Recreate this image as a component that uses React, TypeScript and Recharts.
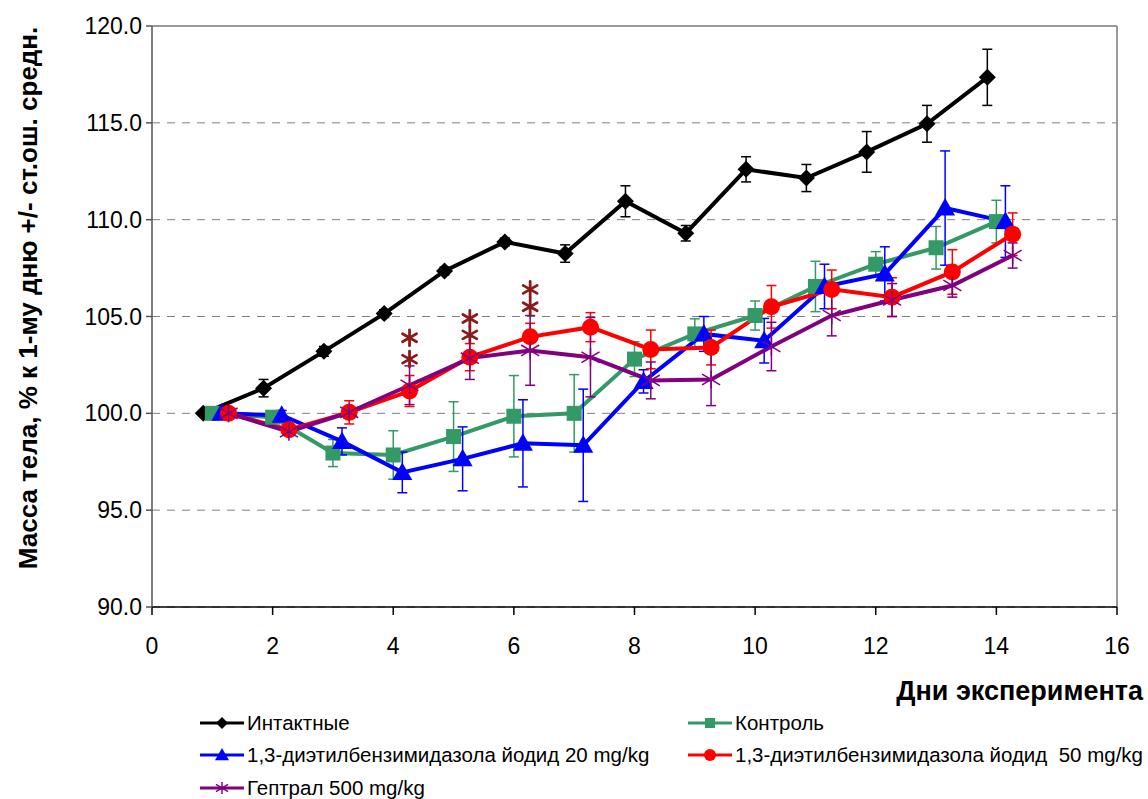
import React from "react";
import {
  ComposedChart,
  Line,
  Scatter,
  XAxis,
  YAxis,
  CartesianGrid,
  ErrorBar,
  ReferenceLine,
} from "recharts";

// days of the experiment
const days = [1, 2, 3, 4, 5, 6, 7, 8, 9, 10, 11, 12, 13, 14];

// Интактные
const intaktMean = [100.0, 101.3, 103.2, 105.15, 107.35, 108.85, 108.25, 110.95, 109.3, 112.6, 112.15, 113.5, 114.95, 117.35];
const intaktSem = [0, 0.45, 0.25, 0.2, 0.2, 0.2, 0.45, 0.8, 0.4, 0.65, 0.7, 1.05, 0.95, 1.45];

// Контроль
const controlMean = [100.0, 99.8, 97.95, 97.85, 98.8, 99.85, 100.0, 102.8, 104.1, 105.05, 106.55, 107.7, 108.55, 109.9];
const controlSem = [0, 0.2, 0.7, 1.25, 1.8, 2.1, 2.0, 0.9, 0.78, 0.75, 1.3, 0.65, 1.1, 1.1];

// 1,3-диэтилбензимидазола йодид 20 mg/kg
const dose20Mean = [100.0, 99.9, 98.55, 96.95, 97.65, 98.45, 98.35, 101.65, 104.1, 103.75, 106.55, 107.2, 110.6, 109.9];
const dose20Sem = [0, 0.25, 0.7, 1.05, 1.65, 2.25, 2.9, 0.6, 0.9, 1.15, 1.15, 1.4, 2.95, 1.85];

// 1,3-диэтилбензимидазола йодид 50 mg/kg
const dose50Mean = [100.0, 99.15, 100.05, 101.15, 102.9, 103.95, 104.45, 103.3, 103.4, 105.5, 106.4, 106.0, 107.3, 109.25];
const dose50Sem = [0, 0.25, 0.6, 0.8, 0.7, 0.7, 0.75, 1.0, 0.9, 1.1, 1.0, 1.0, 1.15, 1.1];

// Гептрал 500 mg/kg
const heptralMean = [100.0, 99.05, 100.05, 101.45, 102.85, 103.25, 102.9, 101.7, 101.75, 103.45, 105.05, 105.85, 106.6, 108.15];
const heptralSem = [0, 0.2, 0.3, 1.0, 1.1, 1.8, 2.05, 0.95, 1.35, 1.25, 1.05, 0.85, 0.6, 0.65];

// significance marks (two asterisks per day)
const starDays = [4, 5, 6];
const starLow = [102.8, 104.05, 105.5];
const starHigh = [103.9, 104.9, 106.4];

const xTicks = [0, 2, 4, 6, 8, 10, 12, 14, 16];
const yTicks = [90, 95, 100, 105, 110, 115, 120];

const FONT = "'Liberation Sans', Arial, sans-serif";

const build = (mean: number[], sem: number[], shift: number) =>
  days.map((d, i) => ({ x: d + shift, y: mean[i], err: sem[i] }));

const intaktData = build(intaktMean, intaktSem, -0.15);
const controlData = build(controlMean, controlSem, 0);
const dose20Data = build(dose20Mean, dose20Sem, 0.15);
const dose50Data = build(dose50Mean, dose50Sem, 0.27);
const heptralData = build(heptralMean, heptralSem, 0.27);
const starData = starDays.flatMap((d, i) => [
  { x: d + 0.27, y: starLow[i] },
  { x: d + 0.27, y: starHigh[i] },
]);

const Diamond = ({ cx, cy, r = 8.5, fill = "#000" }: any) => (
  <path d={`M${cx},${cy - r} L${cx + r},${cy} L${cx},${cy + r} L${cx - r},${cy} Z`} fill={fill} />
);
const Square = ({ cx, cy, r = 7.5, fill = "#339966" }: any) => (
  <rect x={cx - r} y={cy - r} width={2 * r} height={2 * r} fill={fill} />
);
const Triangle = ({ cx, cy, r = 10, fill = "#0000ff" }: any) => (
  <path d={`M${cx},${cy - r} L${cx + r},${cy + r * 0.75} L${cx - r},${cy + r * 0.75} Z`} fill={fill} />
);
const Circle = ({ cx, cy, r = 8.5, fill = "#ff0000" }: any) => <circle cx={cx} cy={cy} r={r} fill={fill} />;
const Asterisk = ({ cx, cy, r = 9, stroke = "#800080", w = 1.5 }: any) => (
  <g stroke={stroke} strokeWidth={w}>
    <line x1={cx} y1={cy - r} x2={cx} y2={cy + r} />
    <line x1={cx - r} y1={cy - r * 0.6} x2={cx + r} y2={cy + r * 0.6} />
    <line x1={cx - r} y1={cy + r * 0.6} x2={cx + r} y2={cy - r * 0.6} />
  </g>
);

const Star = ({ cx, cy }: any) => (
  <g stroke="#8b1a1a" strokeWidth={2.8} strokeLinecap="round">
    <line x1={cx} y1={cy - 8} x2={cx} y2={cy + 8} />
    <line x1={cx - 7} y1={cy - 4} x2={cx + 7} y2={cy + 4} />
    <line x1={cx - 7} y1={cy + 4} x2={cx + 7} y2={cy - 4} />
  </g>
);

const dotOf = (Shape: any) => (p: any) => <Shape key={`m-${p.index}`} cx={p.cx} cy={p.cy} />;

const LegendItem = ({ left, top, color, Shape, r, label }: any) => (
  <div style={{ position: "absolute", left, top: top - 12, height: 24, display: "flex", alignItems: "center" }}>
    <svg width={46} height={24}>
      <line x1={0} y1={12} x2={44} y2={12} stroke={color} strokeWidth={3} />
      <Shape cx={22} cy={12} r={r} fill={color} stroke={color} />
    </svg>
    <span style={{ fontFamily: FONT, fontSize: 20.5, color: "#000", marginLeft: 1, whiteSpace: "pre" }}>{label}</span>
  </div>
);

export default function App() {
  return (
    <div style={{ position: "absolute", left: 0, top: 0, width: 1148, height: 799, background: "#fff" }}>
      <ComposedChart
        width={1148}
        height={799}
        margin={{ top: 26, right: 31, bottom: 162, left: 52 }}
      >
        <CartesianGrid vertical={false} stroke="#808080" strokeDasharray="8 7" />
        <XAxis
          type="number"
          dataKey="x"
          domain={[0, 16]}
          ticks={xTicks}
          allowDataOverflow
          height={30}
          stroke="#000"
          strokeWidth={1.5}
          tickSize={8}
          tickMargin={23}
          tick={{ fill: "#000", fontSize: 23, fontFamily: FONT }}
        />
        <YAxis
          type="number"
          dataKey="y"
          domain={[90, 120]}
          ticks={yTicks}
          allowDataOverflow
          width={100}
          stroke="#555"
          strokeWidth={1.5}
          tickSize={6}
          tickMargin={4}
          tickFormatter={(v: number) => v.toFixed(1)}
          tick={{ fill: "#000", fontSize: 23, fontFamily: FONT }}
          label={() => (
            <text
              x={28}
              y={298}
              transform="rotate(-90 28 298)"
              textAnchor="middle"
              dominantBaseline="central"
              fontFamily={FONT}
              fontWeight="bold"
              fontSize={26}
              fill="#000"
            >
              Масса тела, % к 1-му дню +/- ст.ош. средн.
            </text>
          )}
        />
        <ReferenceLine y={120} stroke="#999" strokeWidth={2} />
        <ReferenceLine x={16} stroke="#999" strokeWidth={2} />

        <Line
          data={intaktData}
          dataKey="y"
          stroke="#000"
          strokeWidth={4}
          dot={dotOf(Diamond)}
          activeDot={false}
          isAnimationActive={false}
        >
          <ErrorBar dataKey="err" direction="y" width={5} stroke="#000" strokeWidth={1.5} isAnimationActive={false} />
        </Line>
        <Line
          data={controlData}
          dataKey="y"
          stroke="#339966"
          strokeWidth={4}
          dot={dotOf(Square)}
          activeDot={false}
          isAnimationActive={false}
        >
          <ErrorBar dataKey="err" direction="y" width={5} stroke="#339966" strokeWidth={1.5} isAnimationActive={false} />
        </Line>
        <Line
          data={dose20Data}
          dataKey="y"
          stroke="#0000ff"
          strokeWidth={4}
          dot={dotOf(Triangle)}
          activeDot={false}
          isAnimationActive={false}
        >
          <ErrorBar dataKey="err" direction="y" width={5} stroke="#0000ff" strokeWidth={1.5} isAnimationActive={false} />
        </Line>
        <Line
          data={dose50Data}
          dataKey="y"
          stroke="#ff0000"
          strokeWidth={4}
          dot={dotOf(Circle)}
          activeDot={false}
          isAnimationActive={false}
        >
          <ErrorBar dataKey="err" direction="y" width={5} stroke="#ff0000" strokeWidth={1.5} isAnimationActive={false} />
        </Line>
        <Line
          data={heptralData}
          dataKey="y"
          stroke="#800080"
          strokeWidth={4}
          dot={dotOf(Asterisk)}
          activeDot={false}
          isAnimationActive={false}
        >
          <ErrorBar dataKey="err" direction="y" width={5} stroke="#800080" strokeWidth={1.5} isAnimationActive={false} />
        </Line>
        <Scatter data={starData} dataKey="y" shape={Star} isAnimationActive={false} />
      </ComposedChart>

      <div
        style={{
          position: "absolute",
          right: 5,
          top: 674,
          fontFamily: FONT,
          fontWeight: "bold",
          fontSize: 27,
          lineHeight: "34px",
          color: "#000",
        }}
      >
        Дни эксперимента
      </div>

      <LegendItem left={200} top={723} color="#000" Shape={Diamond} r={6} label="Интактные" />
      <LegendItem left={688} top={723} color="#339966" Shape={Square} r={5} label="Контроль" />
      <LegendItem left={200} top={755} color="#0000ff" Shape={Triangle} r={7} label="1,3-диэтилбензимидазола йодид 20 mg/kg" />
      <LegendItem left={688} top={755} color="#ff0000" Shape={Circle} r={6} label="1,3-диэтилбензимидазола йодид  50 mg/kg" />
      <LegendItem left={200} top={788} color="#800080" Shape={Asterisk} r={6} label="Гептрал 500 mg/kg" />
    </div>
  );
}
